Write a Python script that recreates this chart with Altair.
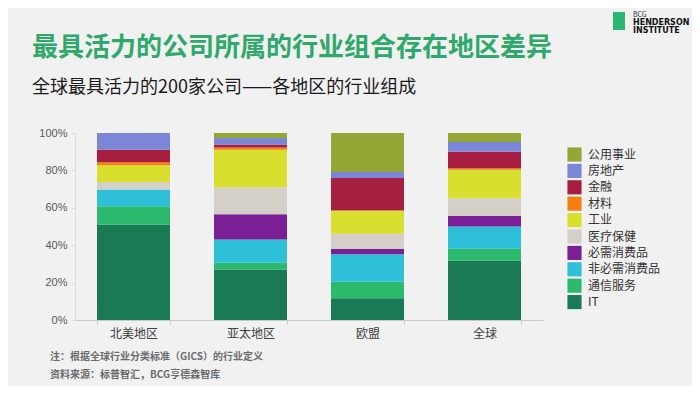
import altair as alt
import pandas as pd

regions = ["北美地区", "亚太地区", "欧盟", "全球"]
# bottom -> top stacking order
sectors = ["IT", "通信服务", "非必需消费品", "必需消费品", "医疗保健", "工业", "材料", "金融", "房地产", "公用事业"]
colors = ["#1b7a56", "#2dba6e", "#2ebfd9", "#7a1f95", "#d4d0c8", "#d8df2e", "#f57f0f", "#a61f41", "#7b87d6", "#94a636"]

it_vals = [51.1, 27.0, 11.6, 31.7]
comm_vals = [9.8, 3.6, 8.9, 6.4]
discr_vals = [8.9, 12.5, 14.6, 11.9]
staples_vals = [0.0, 13.5, 3.0, 5.7]
health_vals = [4.1, 14.4, 8.0, 9.4]
indus_vals = [8.9, 20.1, 12.5, 15.3]
mat_vals = [1.6, 1.2, 0.0, 0.7]
fin_vals = [6.8, 1.6, 17.4, 8.9]
re_vals = [8.9, 3.4, 3.2, 5.2]
util_vals = [0.0, 2.7, 20.8, 4.8]

series = [it_vals, comm_vals, discr_vals, staples_vals, health_vals,
          indus_vals, mat_vals, fin_vals, re_vals, util_vals]

rows = []
for si, (s, vals) in enumerate(zip(sectors, series)):
    for r, v in zip(regions, vals):
        rows.append({"region": r, "sector": s, "value": v, "order": si})
df = pd.DataFrame(rows)

legend_order = sectors[::-1]
legend_colors = colors[::-1]

FONT = "Noto Sans CJK SC"
W, H = 468, 187

bars = alt.Chart(df).mark_bar(size=73).encode(
    x=alt.X("region:N", sort=regions, title=None,
            scale=alt.Scale(paddingInner=0.38, paddingOuter=0.19),
            axis=alt.Axis(labelAngle=0, labelFont=FONT, labelFontSize=12,
                          labelColor="#404040", domainColor="#c8c8c8",
                          tickColor="#c8c8c8", tickSize=4, tickBand="extent",
                          labelPadding=4)),
    y=alt.Y("value:Q", stack="normalize", title=None,
            scale=alt.Scale(domain=[0, 1]),
            axis=alt.Axis(format=".0%", values=[0, 0.2, 0.4, 0.6, 0.8, 1.0],
                          grid=False, labelFont="Liberation Sans", labelFontSize=11,
                          labelColor="#595959", domainColor="#dcdcdc",
                          tickColor="#dcdcdc", tickSize=4, labelPadding=4)),
    color=alt.Color("sector:N", scale=alt.Scale(domain=legend_order, range=legend_colors),
                    legend=alt.Legend(title=None, orient="none", legendX=492, legendY=14,
                                      symbolType="square", symbolSize=200,
                                      symbolStrokeWidth=0, labelFont=FONT,
                                      labelFontSize=12, labelColor="#333333",
                                      rowPadding=1.4, labelOffset=6)),
    order=alt.Order("order:Q", sort="ascending"),
)

def txt(text, x, y, size, color, weight="normal", font=FONT, baseline="middle"):
    return alt.Chart(pd.DataFrame({"t": [text]})).mark_text(
        align="left", baseline=baseline, font=font, fontSize=size,
        color=color, fontWeight=weight
    ).encode(x=alt.value(x), y=alt.value(y), text="t:N")

# coordinates relative to plot origin (75, 133)
title = txt("最具活力的公司所属的行业组合存在地区差异", -43, -85, 26, "#2fa86b", "bold")
subtitle = txt("全球最具活力的200家公司——各地区的行业组成", -43, -45, 18, "#1a1a1a")
note1 = txt("注：根据全球行业分类标准（GICS）的行业定义", -25, 224, 10, "#6b6b6b", "bold")
note2 = txt("资料来源：标普智汇，BCG亨德森智库", -25, 242, 10, "#6b6b6b", "bold")

logo_box = alt.Chart(pd.DataFrame({"a": [0]})).mark_rect(color="#2bb673").encode(
    x=alt.value(538), x2=alt.value(550), y=alt.value(-121), y2=alt.value(-103))
logo1 = txt("BCG", 558, -118, 7, "#333333")
logo2 = txt("HENDERSON", 558, -110, 8, "#111111", "bold", "DejaVu Sans")
logo3 = txt("INSTITUTE", 558, -102, 8, "#111111", "bold", "DejaVu Sans")

chart = alt.layer(bars, title, subtitle, note1, note2, logo_box, logo1, logo2, logo3).properties(
    width=W, height=H,
    autosize=alt.AutoSizeParams(type="none"),
    padding={"left": 67, "top": 125, "right": 149, "bottom": 66},
    background="#f1f1f1",
).configure_view(stroke=None)

chart.save("out.html", embed_options={"renderer": "svg", "actions": False})
